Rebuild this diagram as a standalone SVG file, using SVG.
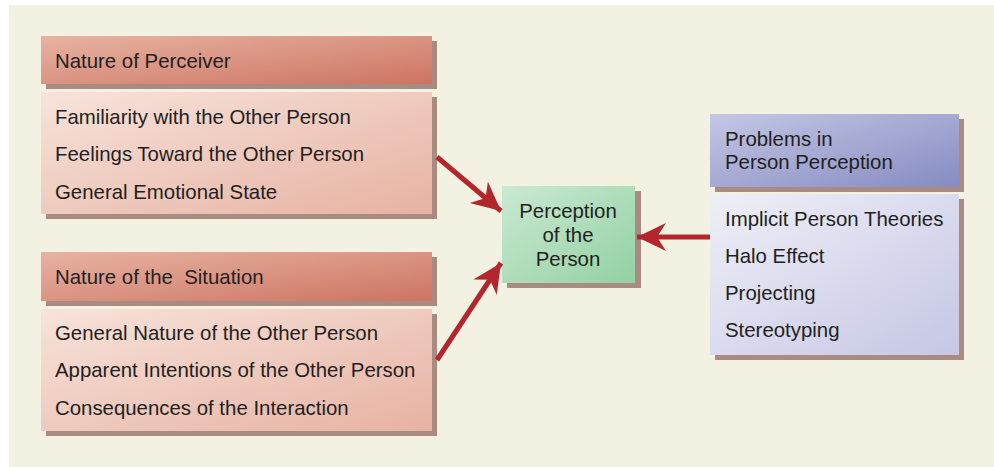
<svg xmlns="http://www.w3.org/2000/svg" width="994" height="467" viewBox="0 0 994 467">
<style>
text{font-family:"Liberation Sans",Arial,sans-serif;font-size:20.4px;fill:#231f20;white-space:pre}
.sh{fill:#a98b82}
.c{text-anchor:middle}
.conn{stroke:#b3262b;stroke-width:5;fill:none}
</style>
<defs>
<linearGradient id="gRedH" x1="0" y1="0" x2="1" y2="1">
<stop offset="0" stop-color="#e8b3a2"/><stop offset="1" stop-color="#cd7463"/>
</linearGradient>
<linearGradient id="gRedB" x1="0" y1="0" x2="1" y2="1">
<stop offset="0" stop-color="#f7e3db"/><stop offset="1" stop-color="#e7b2a2"/>
</linearGradient>
<linearGradient id="gGreen" x1="0" y1="0" x2="1" y2="1">
<stop offset="0" stop-color="#cae9d3"/><stop offset="1" stop-color="#93d1a3"/>
</linearGradient>
<linearGradient id="gBlueH" x1="0" y1="0" x2="1" y2="1">
<stop offset="0" stop-color="#c4c7e4"/><stop offset="1" stop-color="#868bc2"/>
</linearGradient>
<linearGradient id="gBlueB" x1="0" y1="0" x2="1" y2="1">
<stop offset="0" stop-color="#efeff7"/><stop offset="1" stop-color="#c5c7e5"/>
</linearGradient>
<marker id="ah" markerUnits="userSpaceOnUse" markerWidth="34" markerHeight="32" refX="29" refY="14" orient="auto">
<path d="M0,0 L29,14 L0,28 L9,14 Z" fill="#b3262b"/>
</marker>
</defs>
<rect x="9" y="5" width="985" height="462" fill="#f3f1e1"/>

<g id="perceiver">
<rect class="sh" x="46" y="41" width="391" height="48"/>
<rect x="41" y="36" width="391" height="48" fill="url(#gRedH)"/>
<text x="55" y="68">Nature of Perceiver</text>
</g>
<g id="perceiver-items">
<rect class="sh" x="46" y="97" width="391" height="122"/>
<rect x="41" y="92" width="391" height="122" fill="url(#gRedB)"/>
<text x="55" y="124">Familiarity with the Other Person</text>
<text x="55" y="161">Feelings Toward the Other Person</text>
<text x="55" y="199">General Emotional State</text>
</g>
<g id="situation">
<rect class="sh" x="46" y="257" width="391" height="49"/>
<rect x="41" y="252" width="391" height="49" fill="url(#gRedH)"/>
<text x="55" y="284">Nature of the  Situation</text>
</g>
<g id="situation-items">
<rect class="sh" x="46" y="314" width="391" height="122"/>
<rect x="41" y="309" width="391" height="122" fill="url(#gRedB)"/>
<text x="55" y="340">General Nature of the Other Person</text>
<text x="55" y="377">Apparent Intentions of the Other Person</text>
<text x="55" y="415">Consequences of the Interaction</text>
</g>
<g id="perception">
<rect class="sh" x="507" y="191" width="134" height="97"/>
<rect x="502" y="186" width="133" height="97" fill="url(#gGreen)"/>
<text class="c" x="568" y="218">Perception</text>
<text class="c" x="568" y="242">of the</text>
<text class="c" x="568" y="266">Person</text>
</g>
<g id="problems">
<rect class="sh" x="715" y="119" width="249" height="73"/>
<rect x="710" y="114" width="249" height="73" fill="url(#gBlueH)"/>
<text x="725" y="146">Problems in</text>
<text x="725" y="169">Person Perception</text>
</g>
<g id="problems-items">
<rect class="sh" x="715" y="199" width="249" height="161"/>
<rect x="710" y="194" width="249" height="161" fill="url(#gBlueB)"/>
<text x="725" y="226">Implicit Person Theories</text>
<text x="725" y="263">Halo Effect</text>
<text x="725" y="300">Projecting</text>
<text x="725" y="337">Stereotyping</text>
</g>
<g id="connectors">
<line class="conn" x1="437" y1="157" x2="501" y2="211" marker-end="url(#ah)"/>
<line class="conn" x1="437" y1="360" x2="501" y2="263" marker-end="url(#ah)"/>
<line class="conn" x1="710" y1="237" x2="637" y2="237" marker-end="url(#ah)"/>
</g>
</svg>
